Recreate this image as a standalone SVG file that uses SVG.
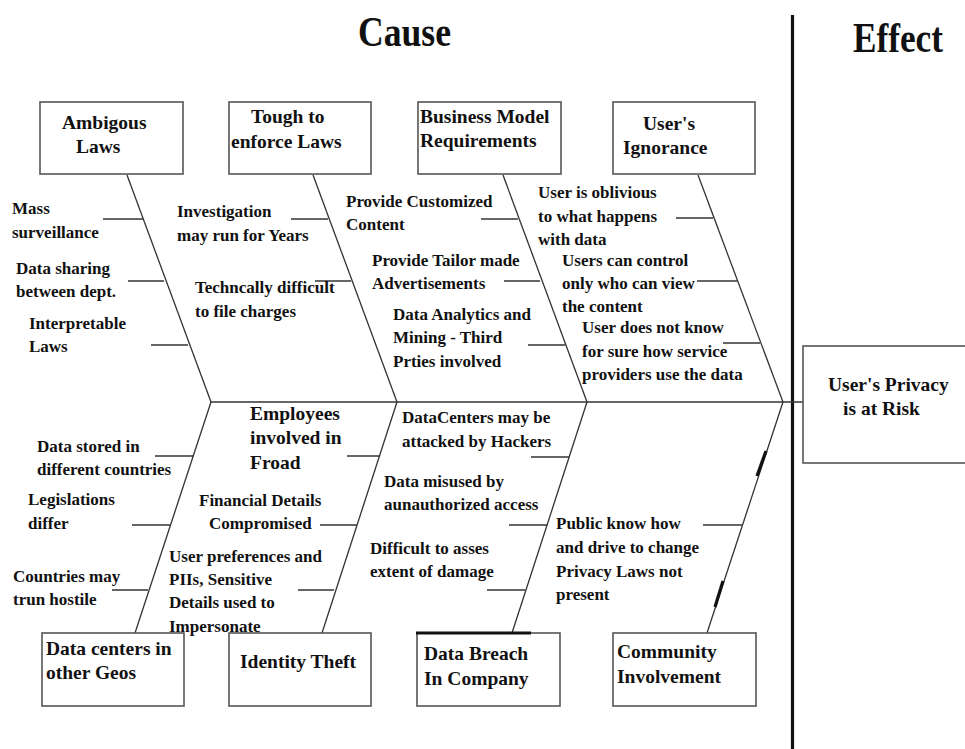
<svg xmlns="http://www.w3.org/2000/svg" width="965" height="749" viewBox="0 0 965 749">
<style>
text{font-family:"Liberation Serif","Times New Roman",serif;font-weight:bold;fill:#111}
.b{font-size:19.5px}
.s{font-size:17px}
.t{font-size:42px}
.box{fill:#fff;stroke:#555;stroke-width:1.6}
.ln{stroke:#333;stroke-width:1.3;fill:none}
.thk{stroke:#111;stroke-width:3.2;fill:none}
</style>
<rect width="965" height="749" fill="#fff"/>
<text class="t" x="358" y="46" textLength="93" lengthAdjust="spacingAndGlyphs">Cause</text>
<text class="t" x="853" y="52" textLength="90" lengthAdjust="spacingAndGlyphs">Effect</text>
<line x1="792.5" y1="15" x2="792.5" y2="749" stroke="#111" stroke-width="3.2"/>
<g id="connectors">
<line class="ln" x1="211" y1="402" x2="803" y2="402"/>
<line class="ln" x1="127" y1="175" x2="211" y2="402"/>
<line class="ln" x1="313" y1="175" x2="397" y2="402"/>
<line class="ln" x1="503" y1="175" x2="587" y2="402"/>
<line class="ln" x1="698" y1="175" x2="783" y2="402"/>
<line class="ln" x1="135" y1="633" x2="211" y2="402"/>
<line class="ln" x1="322" y1="633" x2="397" y2="402"/>
<line class="ln" x1="512" y1="633" x2="587" y2="402"/>
<line class="ln" x1="707" y1="633" x2="783" y2="402"/>
<line class="thk" x1="757" y1="476" x2="766" y2="451"/>
<line class="thk" x1="715" y1="607" x2="723" y2="581"/>
<line class="ln" x1="103" y1="219" x2="143" y2="219"/>
<line class="ln" x1="128" y1="281" x2="164" y2="281"/>
<line class="ln" x1="151" y1="345" x2="188" y2="345"/>
<line class="ln" x1="291" y1="219" x2="328" y2="219"/>
<line class="ln" x1="315" y1="281" x2="351" y2="281"/>
<line class="ln" x1="481" y1="219" x2="518" y2="219"/>
<line class="ln" x1="504" y1="281" x2="540" y2="281"/>
<line class="ln" x1="528" y1="345" x2="565" y2="345"/>
<line class="ln" x1="676" y1="218" x2="713" y2="218"/>
<line class="ln" x1="697" y1="281" x2="737" y2="281"/>
<line class="ln" x1="723" y1="343" x2="760" y2="343"/>
<line class="ln" x1="155" y1="456" x2="193" y2="456"/>
<line class="ln" x1="132" y1="525" x2="170" y2="525"/>
<line class="ln" x1="112" y1="590" x2="148" y2="590"/>
<line class="ln" x1="347" y1="456" x2="380" y2="456"/>
<line class="ln" x1="320" y1="525" x2="357" y2="525"/>
<line class="ln" x1="298" y1="590" x2="334" y2="590"/>
<line class="ln" x1="531" y1="457" x2="569" y2="457"/>
<line class="ln" x1="509" y1="525" x2="547" y2="525"/>
<line class="ln" x1="487" y1="590" x2="525" y2="590"/>
<line class="ln" x1="703" y1="525" x2="742" y2="525"/>
</g>
<g id="ambiguous-laws">
<rect class="box" x="40" y="102" width="143" height="72"/>
<text class="b" x="62" y="129">Ambigous</text>
<text class="b" x="76" y="153">Laws</text>
<text class="s" x="12" y="214">Mass</text>
<text class="s" x="12" y="238">surveillance</text>
<text class="s" x="16" y="274">Data sharing</text>
<text class="s" x="16" y="297">between dept.</text>
<text class="s" x="29" y="329">Interpretable</text>
<text class="s" x="29" y="352">Laws</text>
</g>
<g id="tough-laws">
<rect class="box" x="229" y="102" width="142" height="72"/>
<text class="b" x="251" y="123">Tough to</text>
<text class="b" x="231" y="148">enforce Laws</text>
<text class="s" x="177" y="217">Investigation</text>
<text class="s" x="177" y="241">may run for Years</text>
<text class="s" x="195" y="293">Techncally difficult</text>
<text class="s" x="195" y="317">to file charges</text>
</g>
<g id="business-model">
<rect class="box" x="418" y="102" width="143" height="72"/>
<text class="b" x="420" y="123">Business Model</text>
<text class="b" x="420" y="147">Requirements</text>
<text class="s" x="346" y="207">Provide Customized</text>
<text class="s" x="346" y="230">Content</text>
<text class="s" x="372" y="266">Provide Tailor made</text>
<text class="s" x="372" y="289">Advertisements</text>
<text class="s" x="393" y="320">Data Analytics and</text>
<text class="s" x="393" y="343">Mining - Third</text>
<text class="s" x="393" y="367">Prties involved</text>
</g>
<g id="users-ignorance">
<rect class="box" x="613" y="102" width="142" height="72"/>
<text class="b" x="643" y="130">User's</text>
<text class="b" x="623" y="154">Ignorance</text>
<text class="s" x="538" y="198">User is oblivious</text>
<text class="s" x="538" y="222">to what happens</text>
<text class="s" x="538" y="245">with data</text>
<text class="s" x="562" y="266">Users can control</text>
<text class="s" x="562" y="289">only who can view</text>
<text class="s" x="562" y="312">the content</text>
<text class="s" x="582" y="333">User does not know</text>
<text class="s" x="582" y="357">for sure how service</text>
<text class="s" x="582" y="380">providers use the data</text>
</g>
<g id="data-centers">
<rect class="box" x="42" y="633" width="142" height="73"/>
<text class="b" x="46" y="655">Data centers in</text>
<text class="b" x="46" y="679">other Geos</text>
<text class="s" x="37" y="452">Data stored in</text>
<text class="s" x="37" y="475">different countries</text>
<text class="s" x="28" y="505">Legislations</text>
<text class="s" x="28" y="529">differ</text>
<text class="s" x="13" y="582">Countries may</text>
<text class="s" x="13" y="605">trun hostile</text>
</g>
<g id="identity-theft">
<rect class="box" x="229" y="633" width="142" height="73"/>
<text class="b" x="240" y="668">Identity Theft</text>
<text class="b" x="250" y="420">Employees</text>
<text class="b" x="250" y="444">involved in</text>
<text class="b" x="250" y="469">Froad</text>
<text class="s" x="199" y="506">Financial Details</text>
<text class="s" x="209" y="529">Compromised</text>
<text class="s" x="169" y="562">User preferences and</text>
<text class="s" x="169" y="585">PIIs, Sensitive</text>
<text class="s" x="169" y="608">Details used to</text>
<text class="s" x="169" y="632">Impersonate</text>
</g>
<g id="data-breach">
<rect class="box" x="417" y="633" width="143" height="73"/>
<line class="thk" x1="416" y1="633" x2="531" y2="633"/>
<text class="b" x="424" y="660">Data Breach</text>
<text class="b" x="424" y="685">In Company</text>
<text class="s" x="402" y="423">DataCenters may be</text>
<text class="s" x="402" y="447">attacked by Hackers</text>
<text class="s" x="384" y="487">Data misused by</text>
<text class="s" x="384" y="510">aunauthorized access</text>
<text class="s" x="370" y="554">Difficult to asses</text>
<text class="s" x="370" y="577">extent of damage</text>
</g>
<g id="community">
<rect class="box" x="613" y="633" width="143" height="73"/>
<text class="b" x="617" y="658">Community</text>
<text class="b" x="617" y="683">Involvement</text>
<text class="s" x="556" y="529">Public know how</text>
<text class="s" x="556" y="553">and drive to change</text>
<text class="s" x="556" y="577">Privacy Laws not</text>
<text class="s" x="556" y="600">present</text>
</g>
<g id="effect">
<rect class="box" x="803" y="346" width="180" height="117"/>
<text class="b" x="828" y="391">User's Privacy</text>
<text class="b" x="843" y="415">is at Risk</text>
</g>
</svg>
